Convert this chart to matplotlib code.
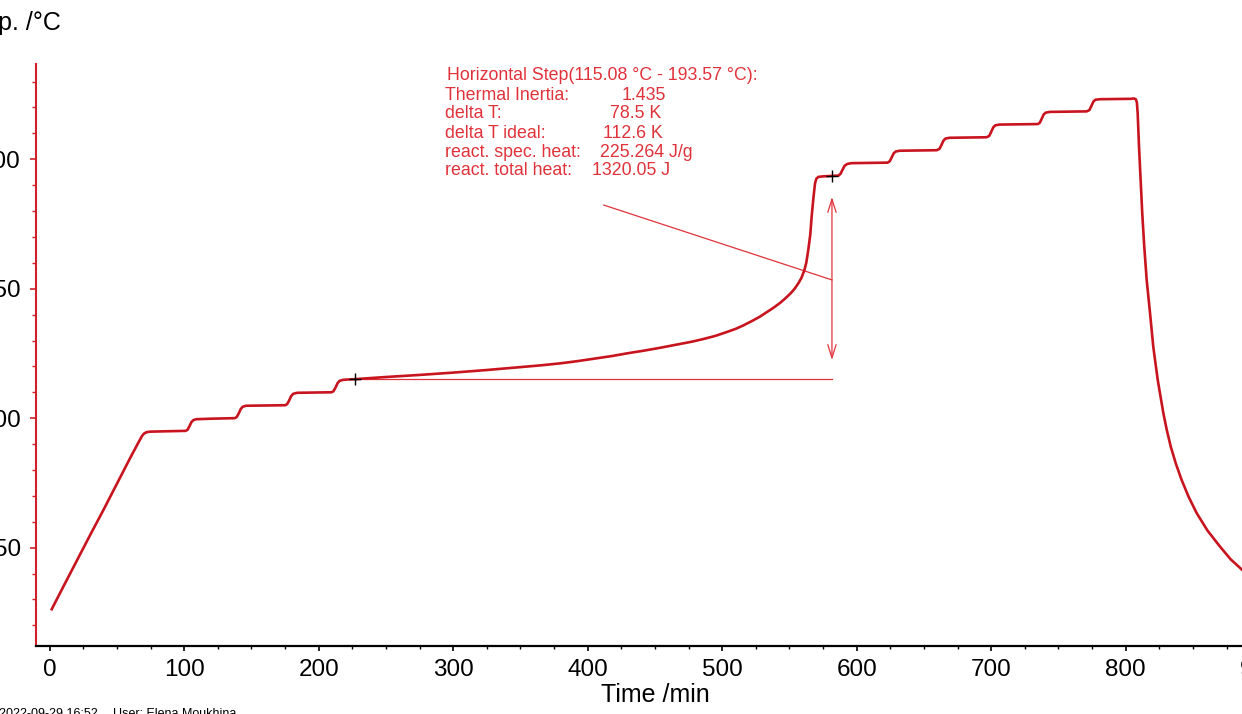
import matplotlib
matplotlib.use("Agg")
import matplotlib.pyplot as plt
from matplotlib.ticker import MultipleLocator

plt.rcParams['font.family'] = ['Liberation Sans', 'DejaVu Sans']

# ---- data ----
time_min = [
    1.5, 10, 20, 30, 40, 50, 60, 65, 67, 68.5, 70, 72, 75, 85, 95, 101,
    102.5, 104, 105.5, 107, 109, 120, 130, 137.5,
    139, 140.5, 142, 143.5, 146, 160, 175,
    176.5, 178, 179.5, 181, 184, 195, 209.5,
    211, 212.5, 214, 215.5, 218, 222, 227,
    250, 275, 300, 325, 350, 365, 380, 392, 405, 418, 430, 442, 455, 466, 478,
    487, 495, 503, 510, 516, 522, 528, 533, 538, 543, 547, 551, 554, 557,
    559, 561, 562.5, 564, 565.5, 566.5, 567.8, 569,
    570, 571.5, 575, 581.6,
    586.5, 588, 589.5, 591, 593, 596, 610, 623,
    624.5, 626, 627.5, 629, 632, 645, 659.5,
    661.5, 663, 664.5, 666, 669, 682, 696.5,
    698.5, 700, 701.5, 703, 706, 720, 734.5,
    736, 737.5, 739, 740.5, 743.5, 757, 771,
    773, 774.5, 776, 777.5, 781, 795, 804, 806, 807.5,
    808.3, 808.9, 809.9, 811.1, 812.3, 813.8, 815.6, 818.1, 820.5, 823.8, 828,
    830.6, 833.5, 837.3, 841.6, 846.8, 852.8, 860.8, 870.1, 878, 886.5, 895, 905,
]
temp_c = [
    26.2, 34.8, 44.8, 54.8, 64.6, 74.7, 84.8, 89.7, 91.6, 93.0, 94.0, 94.6, 94.8, 94.9, 95.0, 95.1,
    95.5, 97.0, 98.6, 99.3, 99.6, 99.8, 99.9, 100.0,
    100.4, 101.8, 103.5, 104.4, 104.8, 104.9, 105.0,
    105.4, 106.8, 108.5, 109.4, 109.8, 109.9, 110.0,
    110.4, 111.8, 113.5, 114.4, 114.8, 114.95, 115.08,
    115.9, 116.7, 117.6, 118.6, 119.7, 120.4, 121.2, 122.0, 123.0, 124.0, 125.1, 126.1, 127.3, 128.4, 129.6,
    130.7, 131.8, 133.2, 134.5, 135.9, 137.5, 139.2, 140.9, 142.6, 144.5, 146.3, 148.3, 150.1, 152.4,
    154.3, 157.0, 160.0, 165.0, 171.0, 177.8, 185.0, 190.7,
    192.5, 193.2, 193.4, 193.57,
    193.7, 194.4, 196.0, 197.5, 198.2, 198.5, 198.6, 198.7,
    199.2, 200.7, 202.3, 203.0, 203.3, 203.4, 203.5,
    204.0, 205.5, 207.2, 208.0, 208.3, 208.4, 208.5,
    209.0, 210.6, 212.3, 213.1, 213.4, 213.5, 213.6,
    214.0, 215.6, 217.3, 218.0, 218.3, 218.4, 218.5,
    219.0, 220.6, 222.3, 223.0, 223.2, 223.3, 223.35, 223.5, 223.2,
    222.0, 217.8, 204.9, 192.0, 179.1, 166.2, 153.4, 140.5, 127.6, 114.8, 101.9,
    95.3, 89.0, 82.4, 76.1, 69.6, 63.3, 56.6, 50.4, 45.5, 41.4, 38.0, 35.0,
]

step_start = (227.0, 115.08)
step_end = (581.6, 193.57)
arrow_top = 185.4
arrow_bottom = 122.5
leader_from = (412.0, 182.3)
leader_to = (581.6, 153.4)

ann_labels = ["Thermal Inertia:", "delta T:", "delta T ideal:",
              "react. spec. heat:", "react. total heat:"]
ann_values = ["1.435", "78.5 K", "112.6 K", "225.264 J/g", "1320.05 J"]
ann_header = "Horizontal Step(115.08 °C - 193.57 °C):"

x_ticks = [0, 100, 200, 300, 400, 500, 600, 700, 800, 900]
y_ticks = [50, 100, 150, 200]

# ---- figure ----
W, H = 1242, 714
fig = plt.figure(figsize=(W / 100, H / 100), dpi=100)
fig.patch.set_facecolor('white')

px_per_min = 1.345
xmin, xmax = -10.19, 960
ymin, ymax = 12.0, 236.8
ax_left = 36 / W
ax_bottom = (H - 646) / H
ax_w = (xmax - xmin) * px_per_min / W
ax_h = (646 - 64) / H
ax = fig.add_axes([ax_left, ax_bottom, ax_w, ax_h])
ax.set_xlim(xmin, xmax)
ax.set_ylim(ymin, ymax)

curve_red = '#c8141e'
ann_red = '#e0323a'
axis_red = '#d0202a'

ax.plot(time_min, temp_c, color=curve_red, lw=1.9, solid_joinstyle='round', zorder=3)

# annotation construction
ax.plot([step_start[0], step_end[0]], [step_start[1], step_start[1]],
        color=ann_red, lw=0.9, zorder=2)
ax.plot([leader_from[0], leader_to[0]], [leader_from[1], leader_to[1]],
        color=ann_red, lw=0.9, zorder=2)
ax.annotate('', xy=(step_end[0], arrow_top), xytext=(step_end[0], arrow_bottom),
            arrowprops=dict(arrowstyle='<->,head_length=0.95,head_width=0.3',
                            color=ann_red, lw=0.9, shrinkA=0, shrinkB=0),
            zorder=2)
ax.plot([step_start[0], step_end[0]], [step_start[1], step_end[1]],
        linestyle='none', marker='+', color='black', ms=9, mew=1.0, zorder=4)

fs_ann = 12.8
ax.text(295.4, 232.3, ann_header, color=ann_red, fontsize=fs_ann, va='center', ha='left')
label_y = [224.8, 217.7, 209.9, 202.8, 195.8]
value_x = [425.3, 416.6, 411.2, 409.2, 403.0]
for lab, val, yy, vx in zip(ann_labels, ann_values, label_y, value_x):
    ax.text(293.9, yy, lab, color=ann_red, fontsize=fs_ann, va='center', ha='left')
    ax.text(vx, yy, val, color=ann_red, fontsize=fs_ann, va='center', ha='left')

# axes styling
for s in ['top', 'right']:
    ax.spines[s].set_visible(False)
ax.spines['left'].set_color(axis_red)
ax.spines['left'].set_linewidth(1.5)
ax.spines['bottom'].set_color('black')
ax.spines['bottom'].set_linewidth(1.6)

ax.set_xticks(x_ticks)
ax.set_yticks(y_ticks)
ax.xaxis.set_minor_locator(MultipleLocator(25))
ax.yaxis.set_minor_locator(MultipleLocator(10))
ax.tick_params(axis='x', which='major', length=3.6, width=1.2, color='black',
               labelsize=17.5, pad=5.5, direction='out')
ax.tick_params(axis='x', which='minor', length=2.0, width=1.0, color='black', direction='out')
ax.tick_params(axis='y', which='major', length=4.3, width=1.2, color=axis_red,
               labelsize=17.5, pad=6.7, direction='out', labelcolor='black')
ax.tick_params(axis='y', which='minor', length=2.7, width=1.0, color=axis_red, direction='out')

# texts outside axes
fig.text(-49 / W, (H - 23) / H, "Temp. /°C", fontsize=18, ha='left', va='center')
fig.text(655 / W, (H - 695) / H, "Time /min", fontsize=18, ha='center', va='center')
fig.text(-1 / W, (H - 717) / H, "2022-09-29 16:52", fontsize=9, ha='left', va='baseline')
fig.text(113 / W, (H - 717) / H, "User: Elena Moukhina", fontsize=9, ha='left', va='baseline')

fig.savefig('out.png', dpi=100, facecolor='white')
